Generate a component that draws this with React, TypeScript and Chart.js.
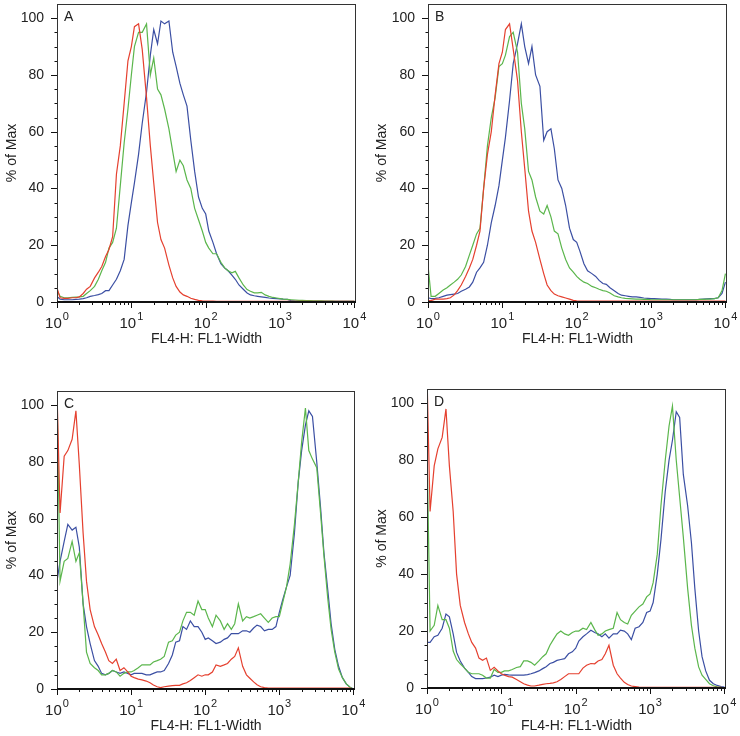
import React, { useEffect, useRef } from "react";
import { Chart, registerables } from "chart.js";

Chart.register(...registerables);

const FONT = '"Liberation Sans", Arial, Helvetica, sans-serif';
const TEXT = "#222";

// x channels (FL4-H: FL1-Width), log axis 10^0 .. 10^4
const CHANNELS = [
  1, 1.1, 1.25, 1.4, 1.6, 1.8, 2, 2.25, 2.5, 2.8, 3.2, 3.6, 4, 4.5, 5, 5.6, 6.3, 7.1, 8, 9,
  10, 11, 12.5, 14, 16, 18, 20, 22.5, 25, 28, 32, 36, 40, 45, 50, 56, 63, 71, 80, 90,
  100, 110, 125, 140, 160, 180, 200, 225, 250, 280, 320, 360, 400, 450, 500, 560, 630, 710, 800, 900,
  1000, 1100, 1250, 1400, 1600, 1800, 2000, 2250, 2500, 2800, 3200, 3600, 4000, 4500, 5000, 5600, 6300, 7100, 8000, 9000,
  10000,
];

const X_EXPONENTS = [0, 1, 2, 3, 4];
const X_MULTIPLIERS = [1, 2, 3, 4, 5, 6, 7, 8, 9];
const Y_TICKS = [0, 20, 40, 60, 80, 100];
const Y_MINOR_STEP = 5;

// Panel A
const A_RED = [
  5, 1.5, 1.3, 1.3, 1.5, 1.5, 1.8, 3, 4.5, 5.5, 8.5, 10.5, 12.5, 16, 18.5, 23, 45, 55, 70, 85,
  90, 97, 98, 89, 72, 55, 42, 28, 22, 19, 13, 8.5, 5.5, 3.5, 2.5, 2, 1.3, 0.9, 0.6, 0.4,
  0.3, 0.3, 0.3, 0.2, 0.2, 0.2, 0.2, 0.2, 0.2, 0.2, 0.2, 0.2, 0.2, 0.2, 0.2, 0.2, 0.2, 0.2, 0.2, 0.2,
  0.2, 0.2, 0.2, 0.2, 0.2, 0.2, 0.2, 0.2, 0.2, 0.2, 0.2, 0.2, 0.2, 0.2, 0.2, 0.2, 0.2, 0.2, 0.2, 0.2,
  0.2,
];
const A_GREEN = [
  4, 2, 1.5, 1.5, 1.6, 1.7, 1.8, 2, 3, 4, 5.5, 8, 11, 14, 19, 21, 26, 41, 56, 68,
  80, 90, 95, 95, 98, 80, 86, 75, 73, 68, 61, 53, 46, 50, 48, 43, 40, 33, 29, 25,
  21, 19, 17, 17, 14, 12, 11, 10.3, 10.8, 8.5, 6, 4.4, 3.8, 3.2, 3.2, 3.4, 2.5, 2, 1.6, 1.4,
  1.2, 1.0, 0.9, 0.8, 0.7, 0.6, 0.6, 0.5, 0.5, 0.4, 0.4, 0.4, 0.3, 0.3, 0.3, 0.2, 0.2, 0.2, 0.2, 0.2,
  0.2,
];
const A_BLUE = [
  2, 1, 0.8, 0.8, 0.8, 0.9, 1, 1.2, 1.5, 2, 2.3, 2.6, 3, 4, 4, 6, 8, 11, 15, 27,
  35, 42, 52, 63, 74, 87, 96, 91, 99, 98, 99, 88, 83, 77, 73, 69, 57, 46, 37, 33,
  31, 25, 21, 17, 13.5, 12, 11, 9.5, 8, 6, 4.5, 3.2, 2.5, 2.2, 2, 1.8, 1.6, 1.4, 1.3, 1.2,
  1.1, 1.0, 0.9, 0.5, 0.3, 0.3, 0.2, 0.2, 0.2, 0.2, 0.2, 0.2, 0.2, 0.2, 0.2, 0.2, 0.2, 0.2, 0.2, 0.2,
  0.2,
];

// Panel B
const B_RED = [
  0.5, 0.5, 1, 1, 1, 1.2, 1.5, 2.5, 4, 6, 9, 12, 15, 20, 25, 40, 52, 60, 73, 84,
  88, 96, 98, 89, 78, 60, 47, 32, 25, 21, 15, 10, 6, 4, 2.8, 2.2, 1.8, 1.4, 1, 0.6,
  0.4, 0.3, 0.3, 0.3, 0.3, 0.3, 0.3, 0.3, 0.3, 0.3, 0.3, 0.3, 0.3, 0.3, 0.3, 0.3, 0.3, 0.3, 0.3, 0.3,
  0.3, 0.3, 0.3, 0.3, 0.3, 0.3, 0.3, 0.3, 0.3, 0.3, 0.3, 0.3, 0.3, 0.3, 0.3, 0.3, 0.3, 0.3, 0.3, 0.3,
  0.3,
];
const B_GREEN = [
  13, 2, 2, 3, 4.2, 5, 6, 7, 8, 9.5, 12.5, 16.5, 20, 24, 26, 40, 55, 65, 72, 83,
  84, 87, 93.5, 95, 88, 70, 61, 46, 43, 37, 32, 31, 34, 30, 25, 24, 19, 15, 12, 10.5,
  9, 8, 7, 6.5, 5.5, 5, 4.5, 4, 3.8, 3.2, 2.2, 1.8, 1.5, 1.3, 1.2, 1.1, 1, 1, 0.9, 0.9,
  0.8, 0.8, 0.8, 0.8, 0.8, 0.8, 0.8, 0.8, 0.8, 0.8, 0.8, 0.8, 0.8, 0.9, 0.9, 1, 1, 1.2, 1.5, 4,
  10,
];
const B_BLUE = [
  1.5, 1.2, 1.3, 1.5, 2, 2.4, 2.6, 2.8, 3, 3.8, 4.5, 5.3, 7, 10.5, 12, 14, 20, 28, 34, 41,
  50, 58, 71, 84, 91, 98, 90, 84, 90, 80, 76, 57, 60, 61, 54, 43, 40, 34, 26, 22,
  21, 18, 13.5, 11, 10, 9, 7.6, 6.5, 6.2, 5, 4, 3, 2.4, 2.2, 2, 1.8, 1.8, 1.6, 1.4, 1.3,
  1.2, 1.2, 1.1, 1.0, 1.0, 0.9, 0.8, 0.8, 0.8, 0.8, 0.8, 0.8, 0.8, 0.9, 1, 1.1, 1.2, 1.2, 1.5, 3,
  7,
];

// Panel C
const C_RED = [
  105, 62, 82, 84, 88, 98, 79, 55, 38, 28, 22, 19, 16, 13, 10, 9, 10.5, 6.5, 7.5, 6,
  4.5, 4, 3.5, 3.2, 2.8, 2.2, 1.4, 0.8, 0.5, 0.8, 1, 1.2, 1.3, 1.3, 1.8, 2.2, 3, 4, 5, 4.5,
  5, 5, 6, 8.5, 8, 8.5, 9, 10.5, 11.5, 14.5, 8, 5, 3.8, 2.5, 1.5, 0.8, 0.5, 0.3, 0.3, 0.3,
  0.3, 0.3, 0.3, 0.3, 0.3, 0.3, 0.3, 0.3, 0.3, 0.3, 0.3, 0.3, 0.3, 0.3, 0.3, 0.3, 0.3, 0.3, 0.3, 0.3,
  0,
];
const C_GREEN = [
  105, 38, 45, 46, 52, 45, 48, 30, 13, 9, 7.5, 6.5, 5, 5, 5.5, 6.5, 6, 4.5, 5.5, 6,
  6, 6.5, 7.5, 8.5, 8.5, 8.5, 9.5, 10, 10.5, 11.5, 16.5, 17, 19, 20, 24, 27, 27, 26, 31, 28,
  28, 25, 22, 26, 24, 21, 23, 21, 23, 30, 24, 25.5, 25, 25.5, 26, 26.5, 25, 23.5, 25, 25.5,
  25.5, 30, 36, 44, 58, 73, 87, 99, 84, 81, 78, 62, 47, 32, 21, 13, 7, 4, 1.8, 0.6,
  0,
];
const C_BLUE = [
  38, 45, 52, 58, 56, 57, 50, 30, 22, 16, 10, 8, 5.5, 5, 5.5, 6.5, 6, 5.5, 6, 5.5,
  5, 5.5, 5.5, 5.5, 5, 5, 5.5, 6, 6, 6.5, 9, 12, 16.5, 17, 22, 21, 24, 22, 22, 20,
  17.5, 18, 17, 16, 16.5, 17.5, 18, 19.5, 19.5, 19.5, 20.5, 20.5, 20, 21.5, 22.5, 22, 20.5, 21, 21, 22,
  27, 31, 36, 40, 55, 73, 84, 93, 98, 96, 80, 64, 48, 35, 23, 14, 8, 4, 1.8, 0.6,
  0,
];

// Panel D
const D_RED = [
  110, 62, 78, 84, 88, 98, 78, 62, 40, 29, 23, 19, 16, 14, 10.5, 9.7, 10.5, 6.2, 7.3, 6,
  5, 4.5, 4, 3.8, 3, 2.2, 1.5, 1, 0.7, 0.7, 1, 1.3, 1.5, 1.6, 1.8, 2.2, 3, 4, 5, 5,
  5, 5, 7, 8, 8.6, 8.5, 9.5, 10, 12, 15, 8, 5, 3.5, 2, 1.2, 0.7, 0.5, 0.3, 0.2, 0.2,
  0.2, 0.2, 0.2, 0.2, 0.2, 0.2, 0.2, 0.2, 0.2, 0.2, 0.2, 0.2, 0.2, 0.2, 0.2, 0.2, 0.2, 0.2, 0.2, 0.2,
  0,
];
const D_GREEN = [
  86, 20, 22, 29, 24, 24, 21, 13, 10, 8.5, 7, 5.5, 5, 5, 5, 4.5, 3.5, 3.5, 6.5, 5.5,
  5.5, 6, 6, 6.5, 7.2, 7.5, 9.5, 9.5, 9, 8, 9.5, 11, 12, 15, 17, 19, 20, 19, 18.5, 19.5,
  20, 20, 21, 20.5, 23, 20.5, 18.5, 19, 20, 20.5, 21, 26.5, 24, 23, 22.5, 25.5, 27, 28.5, 29.5, 32,
  33, 37, 47, 64, 80, 92, 99, 80, 67, 53, 35, 22, 14, 7.4, 4.5, 3, 1.5, 0.8, 0.4, 0.2,
  0,
];
const D_BLUE = [
  16, 16, 18, 18.5, 21, 26, 25, 19, 12.5, 9.5, 7, 5.5, 4, 3.3, 3.3, 3.3, 3.5, 3.8, 4.5, 4,
  4.5, 4.8, 4.6, 4.5, 4.5, 4.5, 4.5, 4.7, 5, 5.4, 6, 6.8, 7.5, 8.6, 9, 9.7, 10, 10.3, 12, 12.7,
  14, 16.5, 18, 19, 20.3, 19.5, 19, 18, 19, 17.5, 19, 19, 20.3, 20, 19, 17, 21, 21.5, 23, 26.5,
  27, 30, 40, 52, 69, 80, 87, 97, 95, 75, 64, 51, 35, 20, 11, 6, 2.7, 1.5, 0.9, 0.5,
  0.3,
];

const RED = "#e5402f";
const GREEN = "#5bb64c";
const BLUE = "#3b4fa3";

type Panel = {
  letter: string;
  left: number;
  top: number;
  w: number;
  h: number;
  plot: { l: number; t: number; r: number; b: number };
  titlePad: number;
  red: number[];
  green: number[];
  blue: number[];
};

const PANELS: Panel[] = [
  { letter: "A", left: 0, top: 0, w: 370, h: 360, plot: { l: 57, t: 4, r: 356, b: 302 }, titlePad: 12, red: A_RED, green: A_GREEN, blue: A_BLUE },
  { letter: "B", left: 370, top: 0, w: 370, h: 360, plot: { l: 58, t: 4, r: 357, b: 302 }, titlePad: 12, red: B_RED, green: B_GREEN, blue: B_BLUE },
  { letter: "C", left: 0, top: 370, w: 370, h: 366, plot: { l: 57, t: 21, r: 355, b: 319 }, titlePad: 1, red: C_RED, green: C_GREEN, blue: C_BLUE },
  { letter: "D", left: 370, top: 370, w: 370, h: 366, plot: { l: 57, t: 19, r: 356, b: 318 }, titlePad: 1, red: D_RED, green: D_GREEN, blue: D_BLUE },
];

const decorPlugin = {
  id: "decor",
  afterDatasetsDraw(chart: any, _args: any, opts: any) {
    const { ctx, chartArea } = chart;
    const { left, top, right, bottom } = chartArea;
    const xs = chart.scales.x;
    const ys = chart.scales.y;
    ctx.save();
    // frame
    ctx.strokeStyle = "#333";
    ctx.lineWidth = 1;
    ctx.strokeRect(left + 0.5, top + 0.5, right - left - 1, bottom - top);
    // bottom axis
    ctx.strokeStyle = "#111";
    ctx.lineWidth = 2;
    ctx.beginPath();
    ctx.moveTo(left, bottom);
    ctx.lineTo(right, bottom);
    ctx.stroke();
    // x ticks
    ctx.lineWidth = 1;
    ctx.beginPath();
    for (const e of X_EXPONENTS) {
      for (const m of X_MULTIPLIERS) {
        const v = m * Math.pow(10, e);
        if (v > xs.max) continue;
        const px = Math.round(xs.getPixelForValue(v)) + 0.5;
        const len = m === 1 ? 6 : 3;
        ctx.moveTo(px, bottom);
        ctx.lineTo(px, bottom + len);
      }
    }
    // y ticks
    for (let v = 0; v <= 100; v += Y_MINOR_STEP) {
      const py = Math.round(ys.getPixelForValue(v)) + 0.5;
      const len = Y_TICKS.includes(v) ? 6 : 2.5;
      ctx.moveTo(left, py);
      ctx.lineTo(left - len, py);
    }
    ctx.stroke();
    // x labels 10^n
    ctx.fillStyle = TEXT;
    ctx.textBaseline = "alphabetic";
    ctx.textAlign = "left";
    for (const e of X_EXPONENTS) {
      const px = xs.getPixelForValue(Math.pow(10, e));
      ctx.font = `15px ${FONT}`;
      const wBase = ctx.measureText("10").width;
      ctx.font = `11px ${FONT}`;
      const wExp = ctx.measureText(String(e)).width;
      const start = px - (wBase + wExp + 1) / 2;
      ctx.font = `15px ${FONT}`;
      ctx.fillText("10", start, bottom + 26);
      ctx.font = `11px ${FONT}`;
      ctx.fillText(String(e), start + wBase + 1, bottom + 18);
    }
    // panel letter
    ctx.font = `14px ${FONT}`;
    ctx.fillText(opts.letter, left + 7, top + 17);
    ctx.restore();
  },
};

function PanelChart({ p }: { p: Panel }) {
  const ref = useRef<HTMLCanvasElement>(null);
  useEffect(() => {
    const toPts = (arr: number[]) => CHANNELS.map((x, i) => ({ x, y: arr[i] }));
    const line = (label: string, arr: number[], color: string) => ({
      label,
      data: toPts(arr),
      borderColor: color,
      backgroundColor: color,
      borderWidth: 1.2,
      pointRadius: 0,
      tension: 0,
      fill: false,
    });
    const chart = new Chart(ref.current as HTMLCanvasElement, {
      type: "line",
      data: {
        datasets: [
          line("red", p.red, RED),
          line("green", p.green, GREEN),
          line("blue", p.blue, BLUE),
        ],
      },
      plugins: [decorPlugin as any],
      options: {
        responsive: false,
        animation: false,
        devicePixelRatio: 1,
        events: [],
        layout: { padding: { top: p.plot.t, right: p.w - p.plot.r, left: 0, bottom: 0 } },
        plugins: {
          legend: { display: false },
          tooltip: { enabled: false },
          decor: { letter: p.letter },
        } as any,
        scales: {
          x: {
            type: "logarithmic",
            min: 1,
            max: 10500,
            ticks: { display: false },
            grid: { display: false, drawTicks: false },
            border: { display: false },
            title: {
              display: true,
              text: "FL4-H: FL1-Width",
              color: TEXT,
              font: { family: FONT, size: 14 },
              padding: { top: 0, bottom: p.titlePad },
            },
            afterFit: (s: any) => {
              s.height = p.h - p.plot.b;
              s.paddingLeft = 0;
              s.paddingRight = 0;
              s.paddingTop = 0;
              s.paddingBottom = 0;
            },
          },
          y: {
            min: 0,
            max: 105,
            afterBuildTicks: (s: any) => {
              s.ticks = Y_TICKS.map((v) => ({ value: v }));
            },
            ticks: { color: TEXT, font: { family: FONT, size: 14 }, padding: 13 },
            grid: { display: false, drawTicks: false },
            border: { display: false },
            title: {
              display: true,
              text: "% of Max",
              color: TEXT,
              font: { family: FONT, size: 14 },
              padding: { top: 4, bottom: 0 },
            },
            afterFit: (s: any) => {
              s.width = p.plot.l;
              s.paddingTop = 0;
              s.paddingBottom = 0;
              s.paddingLeft = 0;
              s.paddingRight = 0;
            },
          },
        } as any,
      },
    } as any);
    return () => chart.destroy();
  }, [p]);
  return (
    <canvas
      ref={ref}
      width={p.w}
      height={p.h}
      style={{ position: "absolute", left: p.left, top: p.top, width: p.w, height: p.h }}
    />
  );
}

export default function App() {
  return (
    <div style={{ position: "absolute", left: 0, top: 0, width: 740, height: 736, background: "#fff" }}>
      {PANELS.map((p) => (
        <PanelChart key={p.letter} p={p} />
      ))}
    </div>
  );
}
